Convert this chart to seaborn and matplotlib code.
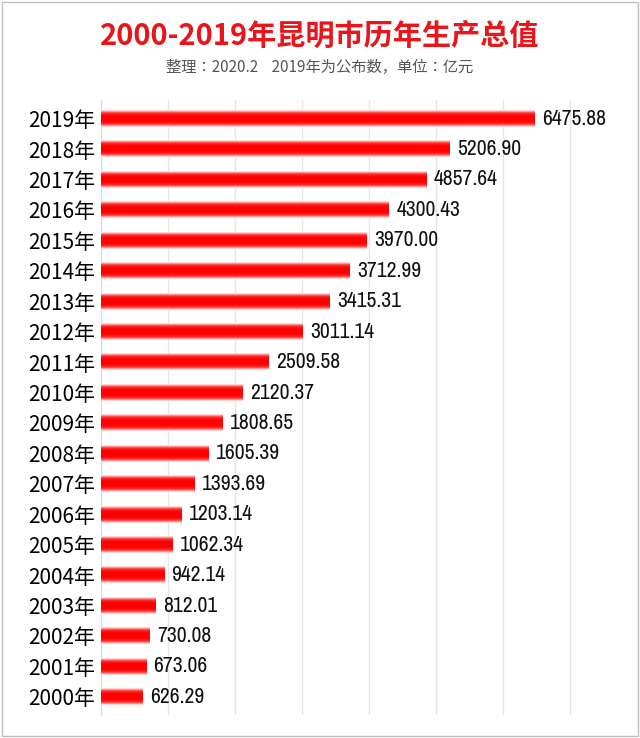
import matplotlib
matplotlib.use("Agg")
import matplotlib.pyplot as plt
from matplotlib import font_manager as fm
import seaborn as sns
import numpy as np
import pandas as pd
from matplotlib.colors import LinearSegmentedColormap

cjk = [f.name for f in fm.fontManager.ttflist if "CJK" in f.name]
cjk_name = "Noto Sans CJK SC" if "Noto Sans CJK SC" in cjk else (cjk[0] if cjk else "DejaVu Sans")
plt.rcParams["font.family"] = [cjk_name, "DejaVu Sans"]
narrow = [f.name for f in fm.fontManager.ttflist if "Narrow" in f.name]
num_font = narrow[0] if narrow else cjk_name

years = [f"{y}年" for y in range(2019, 1999, -1)]
values = [6475.88, 5206.90, 4857.64, 4300.43, 3970.00, 3712.99, 3415.31, 3011.14,
          2509.58, 2120.37, 1808.65, 1605.39, 1393.69, 1203.14, 1062.34, 942.14,
          812.01, 730.08, 673.06, 626.29]
df = pd.DataFrame({"year": years, "value": values})

fig = plt.figure(figsize=(6.4, 7.38), dpi=100)
ax = fig.add_axes([0.158, 0.031, 0.826, 0.833])
sns.barplot(data=df, x="value", y="year", orient="h", color="red", width=0.55, ax=ax)

cmap = LinearSegmentedColormap.from_list("cyl", ["#fff0f0", "#ff3030", "#ff0000", "#ff0000", "#ff0000", "#ff3030", "#fff0f0"])
grad = np.linspace(0, 1, 64).reshape(-1, 1)
for p in ax.patches:
    x0, y0, w, h = p.get_x(), p.get_y(), p.get_width(), p.get_height()
    ax.imshow(grad, cmap=cmap, aspect="auto", extent=[x0, x0 + w, y0 + h, y0], zorder=3)
    p.set_alpha(0)

ax.set_xlim(0, 7900)
ax.set_ylim(19.6, -0.6)
ax.set_xticks(range(0, 8000, 1000))
ax.grid(axis="x", color="#e6e6e6", lw=1)
ax.set_axisbelow(True)
ax.tick_params(axis="x", length=0, labelbottom=False)
ax.tick_params(axis="y", length=0, labelsize=15, pad=4)
ax.set_xlabel("")
ax.set_ylabel("")
for s in ["top", "right", "bottom"]:
    ax.spines[s].set_visible(False)
ax.spines["left"].set_color("#d9d9d9")

for i, v in enumerate(values):
    ax.text(v + 110, i, f"{v:.2f}", va="center", ha="left", fontsize=15.5,
            color="#111111", zorder=4, fontfamily=num_font)

fig.text(0.5, 0.952, "2000-2019年昆明市历年生产总值", ha="center", va="center",
         fontsize=21, fontweight="bold", color="#e8161b")
fig.text(0.5, 0.908, "整理：2020.2    2019年为公布数，单位：亿元", ha="center", va="center",
         fontsize=11, color="#555555")
fig.patches.append(plt.Rectangle((0.003, 0.003), 0.994, 0.994, transform=fig.transFigure,
                                 fill=False, ec="#bfbfbf", lw=1))
fig.savefig("out.png", dpi=100)
